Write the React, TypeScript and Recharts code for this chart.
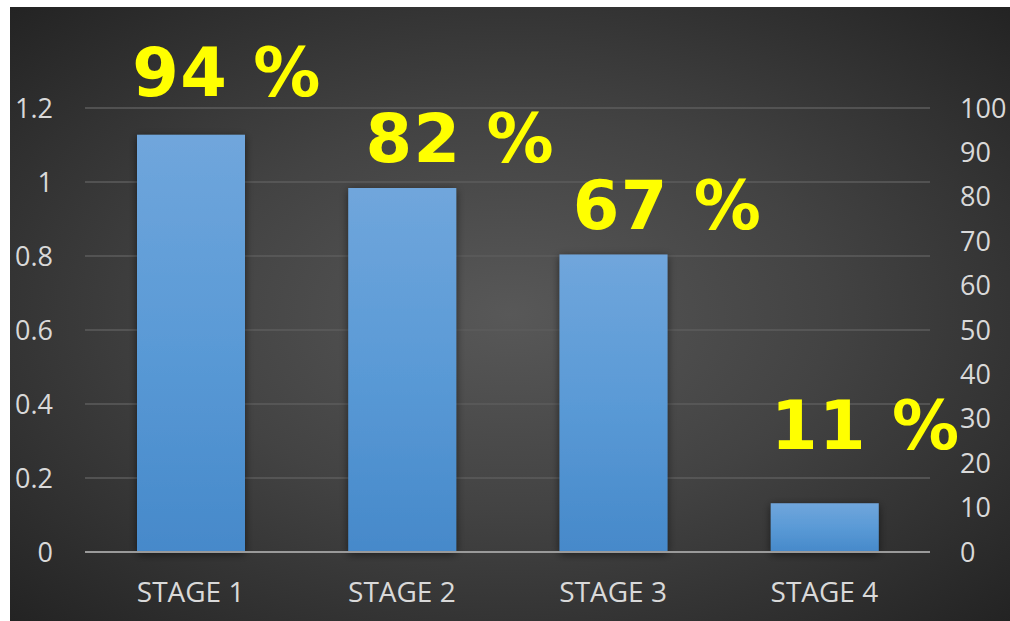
import { BarChart, Bar, XAxis, YAxis, CartesianGrid, LabelList } from "recharts";

const stages = ["STAGE 1", "STAGE 2", "STAGE 3", "STAGE 4"];
const completion = [94, 82, 67, 11];
const leftTicks = [0, 0.2, 0.4, 0.6, 0.8, 1, 1.2];
const rightTicks = [0, 10, 20, 30, 40, 50, 60, 70, 80, 90, 100];

// hand-placed label nudges relative to each bar's top centre (dx, dy)
const labelNudge = [
  [36, -39],
  [58, -26],
  [54, -26],
  [41, -54],
];

const data = stages.map((stage, i) => ({ stage, pct: completion[i] }));

const tickStyle = { fill: "#d9d9d9", fontSize: 27, fontFamily: "'Open Sans', sans-serif" };

function PctLabel(props: any) {
  const { x, y, width, value, index } = props;
  const [dx, dy] = labelNudge[index] || [0, -20];
  return (
    <text
      x={Number(x) + Number(width) / 2 + dx}
      y={Number(y) + dy}
      textAnchor="middle"
      fill="#ffff00"
      fontSize={67}
      fontWeight="bold"
      letterSpacing={1.5}
      fontFamily="'DejaVu Sans', sans-serif"
    >
      {`${value} %`}
    </text>
  );
}

export default function App() {
  return (
    <div
      style={{
        position: "absolute",
        left: 10,
        top: 7,
        width: 1000,
        height: 614,
        background:
          "radial-gradient(ellipse farthest-corner at 50% 50%, #585858 0%, #434343 45%, #232323 100%)",
      }}
    >
      <BarChart
        width={1000}
        height={614}
        data={data}
        margin={{ top: 101, right: 0, bottom: 0, left: 0 }}
      >
        <defs>
          <linearGradient id="barGrad" x1="0" y1="0" x2="0" y2="1">
            <stop offset="0%" stopColor="#70a6dc" />
            <stop offset="50%" stopColor="#5a9ad6" />
            <stop offset="100%" stopColor="#4689ca" />
          </linearGradient>
          <filter id="barShadow" x="-20%" y="-20%" width="140%" height="140%">
            <feDropShadow dx="0" dy="2" stdDeviation="4" floodColor="#000" floodOpacity="0.55" />
          </filter>
        </defs>
        <CartesianGrid yAxisId="left" vertical={false} stroke="#5c5c5c" strokeWidth={1.5} />
        <XAxis
          dataKey="stage"
          tick={{ ...tickStyle, fontSize: 28 }}
          tickLine={false}
          tickSize={0}
          tickMargin={30}
          axisLine={{ stroke: "#9a9a9a", strokeWidth: 2 }}
          height={69}
        />
        <YAxis
          yAxisId="left"
          orientation="left"
          type="number"
          domain={[0, 1.2]}
          allowDataOverflow
          ticks={leftTicks}
          tick={tickStyle}
          tickLine={false}
          tickSize={0}
          tickMargin={32}
          axisLine={false}
          width={75}
          interval={0}
        />
        <YAxis
          yAxisId="right"
          orientation="right"
          type="number"
          domain={[0, 100]}
          ticks={rightTicks}
          tick={{ ...tickStyle, textAnchor: "start" }}
          tickLine={false}
          tickSize={0}
          tickMargin={30}
          axisLine={false}
          width={80}
          interval={0}
        />
        <Bar
          yAxisId="right"
          dataKey="pct"
          fill="url(#barGrad)"
          barSize={108}
          filter="url(#barShadow)"
          isAnimationActive={false}
        >
          <LabelList dataKey="pct" content={PctLabel} />
        </Bar>
      </BarChart>
    </div>
  );
}
